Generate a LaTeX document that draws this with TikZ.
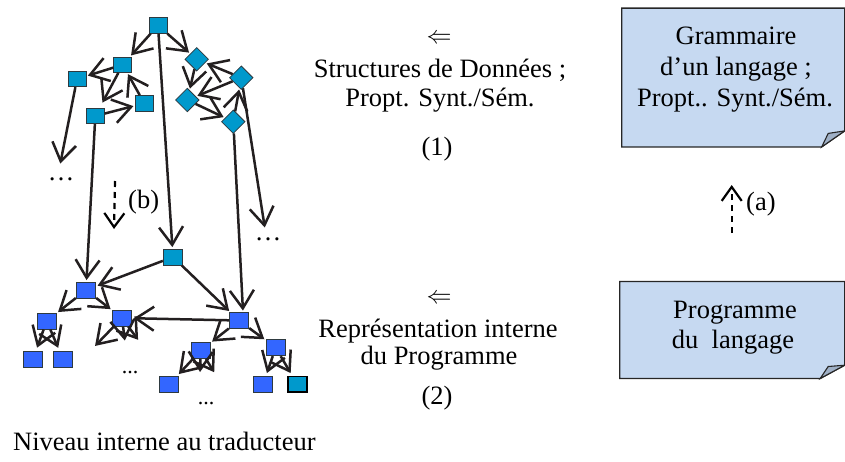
\documentclass[tikz,border=0pt]{standalone}
\usepackage{fontspec}
\usepackage{graphicx}
\setmainfont{Liberation Serif}
\usetikzlibrary{arrows.meta}

\definecolor{sqteal}{HTML}{0099CC}
\definecolor{sqblue}{HTML}{3366FF}
\definecolor{sqedge}{HTML}{2E3A40}
\definecolor{inkline}{HTML}{231F20}
\definecolor{notefill}{HTML}{C6D9F1}
\definecolor{foldfill}{HTML}{9FB0C6}

\newcommand{\bigleft}{{\fontsize{10}{12}\selectfont\scalebox{2.5}{$\Leftarrow$}}}

\begin{document}
\begin{tikzpicture}[x=1pt,y=-1pt,
  tsq/.style={rectangle,fill=sqteal,draw=sqedge,line width=0.8pt,
    minimum width=18pt,minimum height=15.5pt,inner sep=0pt},
  tdia/.style={tsq,minimum width=16.5pt,minimum height=16.5pt,rotate=45},
  bsq/.style={rectangle,fill=sqblue,draw=sqedge,line width=0.9pt,
    minimum width=19.5pt,minimum height=16pt,inner sep=0pt},
  arr/.style={draw=inkline,line width=2.5pt,
    -{Straight Barb[length=18pt,width=24pt]},shorten >=1.5pt},
  darr/.style={draw=black,line width=2.2pt,dash pattern=on 6pt off 5pt,
    -{Straight Barb[length=14pt,width=20pt]}},
  txt/.style={font=\fontsize{26.5}{31}\selectfont,anchor=base,inner sep=0pt},
  smalldots/.style={font=\fontsize{22}{26}\selectfont,anchor=base,inner sep=0pt},
  noteline/.style={fill=notefill,draw=black!85,line width=1.3pt,line join=miter},
  notefold/.style={fill=foldfill,draw=black!85,line width=1.1pt,line join=miter},
  notebox/.style={rectangle,inner sep=0pt,draw=none}]

\useasboundingbox (0,0) rectangle (845,461);

% ---------- upper structure: squares and diamonds ----------
\node[tsq]  (r) at (158,25.5) {};
\node[tsq]  (a) at (122.7,64.7) {};
\node[tsq]  (b) at (77,79) {};
\node[tsq]  (c) at (95.3,116) {};
\node[tsq]  (d) at (144.3,103.3) {};
\node[tdia] (e) at (196.7,59.3) {};
\node[tdia] (f) at (241.3,77.7) {};
\node[tdia] (g) at (187.3,100) {};
\node[tdia] (h) at (233.3,121.7) {};

\draw[arr] (r) -- (a);
\draw[arr] (r) -- (e);
\draw[arr] (a) -- (b);
\draw[arr,shorten >=6pt] (a) -- (c);
\draw[arr] (d) -- (a);
\draw[arr] (c) -- (d);
\draw[arr] (e) -- (g);
\draw[arr] (f) -- (e);
\draw[arr] (f) -- (g);
\draw[arr] (g) -- (h);
\draw[arr] (h) -- (f);

% ---------- lower structure: internal representation ----------
\node[tsq,minimum width=19.5pt,minimum height=16pt] (m) at (173,257) {};
\node[bsq] (n1) at (86,290) {};
\node[bsq] (n2) at (46.7,321) {};
\node[bsq] (n3) at (122,318) {};
\node[bsq] (n4) at (33,359) {};
\node[bsq] (n5) at (63,359) {};
\node[bsq] (n6) at (239,320.5) {};
\node[bsq] (n7) at (200.7,350.5) {};
\node[bsq] (n8) at (275.7,347.7) {};
\node[bsq] (n9) at (169,384.7) {};
\node[bsq] (n10) at (263,384.3) {};
\node[tsq,draw=black,line width=1.8pt,minimum width=19pt,minimum height=15.5pt] (n11) at (297.3,384.3) {};

\coordinate (x1) at (94,347);
\coordinate (x2) at (125,342);
\coordinate (x3) at (139,341);
\coordinate (y1) at (200,373.5);
\coordinate (y2) at (215,373.5);

\draw[arr] (m) -- (n1);
\draw[arr] (m) -- (n6);
\draw[arr] (n6) -- (n3);
\draw[arr] (n1) -- (n2);
\draw[arr] (n1) -- (n3);
\draw[arr] (n6) -- (n7);
\draw[arr] (n6) -- (n8);
\draw[arr,shorten >=3pt] (n2) -- (n4);
\draw[arr,shorten >=3pt] (n2) -- (n5);
\draw[arr] (n3) -- (x1);
\draw[arr] (n3) -- (x2);
\draw[arr] (n3) -- (x3);
\draw[arr,shorten >=3pt] (n7) -- (n9);
\draw[arr] (n7) -- (y1);
\draw[arr] (n7) -- (y2);
\draw[arr,shorten >=3pt] (n8) -- (n10);
\draw[arr,shorten >=3pt] (n8) -- (n11);

% ---------- links between the two levels ----------
\node[txt] (dotsl) at (61,180) {…};
\node[txt] (dotsr) at (268,240) {…};
\coordinate (dl) at (60,165);
\coordinate (dr) at (265,229);
\draw[arr] (b) -- (dl);
\draw[arr] (f) -- (dr);
\draw[arr] (c) -- (n1);
\draw[arr] (r) -- (m);
\draw[arr] (h) -- ([xshift=4pt]n6.north);

\node[smalldots] (dotsb1) at (130,373) {...};
\node[smalldots] (dotsb2) at (206,404.5) {...};

\coordinate (bs) at (115,181);
\coordinate (be) at (114,229);
\draw[darr] (bs) -- (be);
\node[txt,anchor=base west] (lblb) at (128,208) {(b)};

% ---------- middle captions ----------
\node[txt] (larr1) at (439,43.5) {\bigleft};
\node[txt] (sd1) at (440,77) {Structures de Données ;};
\node[txt] (sd2) at (440,106) {Propt. Synt./Sém.};
\node[txt] (num1) at (437,155) {(1)};
\node[txt] (larr2) at (439,303.5) {\bigleft};
\node[txt] (ri1) at (438,337) {Représentation interne};
\node[txt] (ri2) at (439,364) {du Programme};
\node[txt] (num2) at (437,404) {(2)};

\node[txt,anchor=base west] (niveau) at (13,450) {Niveau interne au traducteur};

% ---------- right-hand notes ----------
\node[notebox,minimum width=222.5pt,minimum height=138.4pt] (gram) at (733.25,77.5) {};
\draw[noteline] (gram.north west) -- (gram.north east) -- ([yshift=16pt]gram.south east)
  -- ([xshift=-23pt]gram.south east) -- (gram.south west) -- cycle;
\draw[notefold] ([xshift=-23pt]gram.south east) -- ([xshift=-16.5pt,yshift=13.5pt]gram.south east)
  -- ([yshift=16pt]gram.south east) -- cycle;
\node[txt] (g1) at (736,44) {Grammaire};
\node[txt] (g2) at (736,75.5) {d’un langage ;};
\node[txt] (g3) at (735,106) {Propt.. Synt./Sém.};

\node[notebox,minimum width=224.5pt,minimum height=96.6pt] (prog) at (732.25,330) {};
\draw[noteline] (prog.north west) -- (prog.north east) -- ([yshift=13.3pt]prog.south east)
  -- ([xshift=-24.5pt]prog.south east) -- (prog.south west) -- cycle;
\draw[notefold] ([xshift=-24.5pt]prog.south east) -- ([xshift=-16.5pt,yshift=12pt]prog.south east)
  -- ([yshift=13.3pt]prog.south east) -- cycle;
\node[txt] (p1) at (735,318) {Programme};
\node[txt] (p2) at (733,348) {du~~langage};

\coordinate (as) at (731.7,233);
\coordinate (ae) at (731.7,185);
\draw[darr] (as) -- (ae);
\node[txt,anchor=base west] (lbla) at (746,210) {(a)};

\end{tikzpicture}
\end{document}
